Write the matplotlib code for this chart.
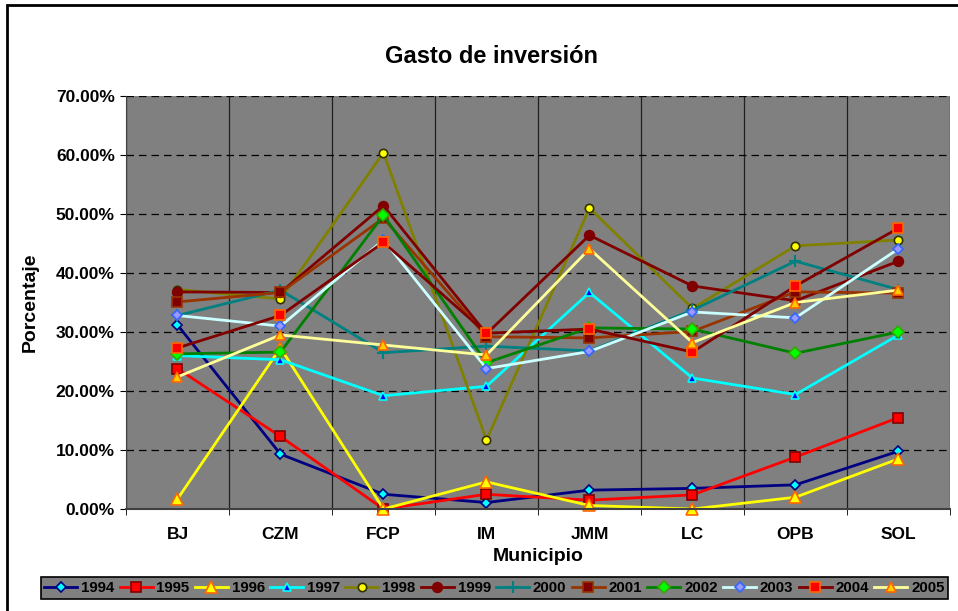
import matplotlib.pyplot as plt
import matplotlib.patches as mpatches
import numpy as np

# Datos (porcentaje de gasto de inversion por municipio)
municipios = ["BJ", "CZM", "FCP", "IM", "JMM", "LC", "OPB", "SOL"]
anios = ["1994", "1995", "1996", "1997", "1998", "1999",
         "2000", "2001", "2002", "2003", "2004", "2005"]

v1994 = [31.2, 9.3, 2.5, 1.1, 3.2, 3.5, 4.1, 9.8]
v1995 = [23.8, 12.3, 0.0, 2.5, 1.5, 2.4, 8.8, 15.5]
v1996 = [1.7, 27.3, 0.0, 4.6, 0.6, 0.0, 2.0, 8.5]
v1997 = [26.0, 25.3, 19.2, 20.8, 36.7, 22.2, 19.4, 29.5]
v1998 = [37.2, 35.6, 60.4, 11.7, 51.0, 34.0, 44.6, 45.6]
v1999 = [36.8, 36.7, 51.4, 29.7, 46.4, 37.8, 35.3, 42.0]
v2000 = [32.8, 37.1, 26.5, 27.6, 26.8, 33.7, 42.0, 37.2]
v2001 = [35.1, 36.7, 49.3, 29.2, 29.0, 30.1, 36.8, 36.6]
v2002 = [26.3, 26.6, 49.8, 24.8, 30.7, 30.5, 26.4, 30.0]
v2003 = [32.8, 31.0, 45.6, 23.8, 26.7, 33.4, 32.4, 44.1]
v2004 = [27.3, 32.8, 45.2, 29.8, 30.5, 26.6, 37.8, 47.6]
v2005 = [22.4, 29.5, 27.8, 26.1, 44.1, 28.2, 35.0, 37.1]

series = [v1994, v1995, v1996, v1997, v1998, v1999,
          v2000, v2001, v2002, v2003, v2004, v2005]

# estilo de cada serie: color linea, marcador, relleno, borde, tamano
estilos = [
    ("#000080", "D", "#00FFFF", "#000080", 5),
    ("#FF0000", "s", "#FF0000", "#800000", 7),
    ("#FFFF00", "^", "#FFFF00", "#FF6600", 8),
    ("#00FFFF", "^", "#0000FF", "#00FFFF", 6),
    ("#808000", "o", "#FFFF00", "#303000", 6),
    ("#800000", "o", "#800000", "#800000", 7),
    ("#008080", "+", "#008080", "#008080", 9),
    ("#993300", "s", "#800000", "#993300", 7),
    ("#008000", "D", "#00FF00", "#33AA00", 6),
    ("#CCFFFF", "D", "#9999FF", "#3366FF", 5),
    ("#800000", "s", "#FF0000", "#FF6600", 7),
    ("#FFFF99", "^", "#FFCC00", "#FF6600", 7),
]

plt.rcParams['font.family'] = ['Liberation Sans', 'DejaVu Sans']

fig = plt.figure(figsize=(9.58, 6.11), dpi=100)
ax = fig.add_axes([0.1315, 0.1669, 0.8601, 0.676])
ax.set_facecolor("#808080")

x = np.arange(len(municipios))
for anio, valores, (col, mk, mfc, mec, ms) in zip(anios, series, estilos):
    ax.plot(x, valores, color=col, lw=2, marker=mk, markerfacecolor=mfc,
            markeredgecolor=mec, markersize=ms, markeredgewidth=1.2 if mk != "+" else 1.5,
            label=anio, clip_on=False)

ax.set_xlim(-0.5, len(municipios) - 0.5)
ax.set_ylim(0, 70)
ax.set_yticks(np.arange(0, 71, 10))
ax.set_yticklabels([f"{v:.2f}%" for v in np.arange(0, 71, 10)], fontsize=12.5, fontweight="bold")
ax.set_xticks(x)
ax.set_xticklabels(municipios, fontsize=12.5, fontweight="bold")
ax.set_xticks(np.arange(-0.5, len(municipios)), minor=True)
ax.tick_params(axis="x", which="major", length=0, pad=13)
ax.tick_params(axis="x", which="minor", length=4, color="black")
ax.tick_params(axis="y", length=4, color="black", pad=4)

ax.grid(True, axis="y", which="major", color="black", linestyle=(0, (6, 4)), lw=0.9)
ax.grid(True, axis="x", which="minor", color="#202020", linestyle="-", lw=0.9)
ax.set_axisbelow(True)

for lado in ["top", "right"]:
    ax.spines[lado].set_visible(False)
ax.spines["left"].set_color("#404040")
ax.spines["bottom"].set_color("#404040")
ax.spines["bottom"].set_linewidth(1.5)

ax.set_xlabel("Municipio", fontsize=14, fontweight="bold", va="center")
ax.set_ylabel("Porcentaje", fontsize=14, fontweight="bold", va="center")
ax.xaxis.set_label_coords(0.5, -0.116)
ax.yaxis.set_label_coords(-0.116, 0.5)
fig.text(0.513, 0.907, "Gasto de inversión", ha="center", va="center",
         fontsize=17, fontweight="bold")

leg = fig.legend(loc="center", bbox_to_anchor=(0.516, 0.038), ncol=12,
                 prop={"weight": "bold", "size": 10.8},
                 frameon=True, fancybox=False, handlelength=2.2,
                 handletextpad=0.25, columnspacing=0.36, borderpad=0.25,
                 borderaxespad=0)
leg.get_frame().set_facecolor("#808080")
leg.get_frame().set_edgecolor("black")
leg.get_frame().set_linewidth(1.2)
leg.get_frame().set_alpha(1)

# marco exterior del grafico
fig.patches.append(mpatches.Rectangle((0.0073, -0.2), 1.2, 1.1918, transform=fig.transFigure,
                                      fill=False, edgecolor="black", lw=2))

fig.savefig("out.png", dpi=100)
